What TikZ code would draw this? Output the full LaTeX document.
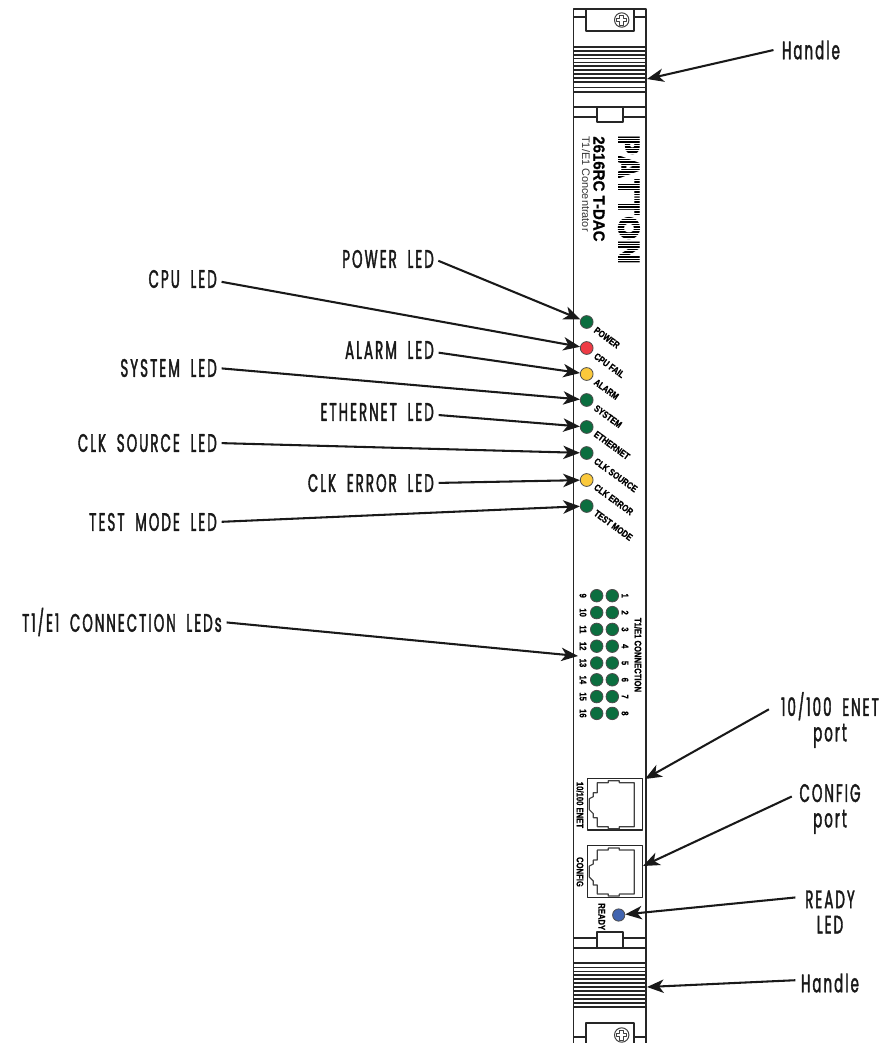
\documentclass[tikz,border=0pt]{standalone}
\usepackage{fontspec}
\usetikzlibrary{arrows.meta,positioning}
\newfontfamily\calloutfont[FakeStretch=0.53,LetterSpace=8,WordSpace=1.9,FakeBold=1.6]{Poppins}
\newfontfamily\panelfont[FakeStretch=0.8,FakeBold=0.8]{Liberation Sans Bold}
\newfontfamily\modelfont[FakeStretch=0.94,FakeBold=0.6]{Liberation Sans Bold}
\newfontfamily\logofont{Poppins Black}
\setsansfont{Liberation Sans}
\tikzset{faceplate/.style={
  x=0.75pt,y=-0.75pt,
  >=Stealth,line join=round,line cap=butt
},
  edge/.style={line width=0.85pt,black!85},
  thin edge/.style={line width=0.75pt,black!75},
  led/.style={circle,draw=black!70,line width=0.6pt,minimum size=9.6pt,inner sep=0pt},
  greenled/.style={led,fill=ledgreen},
  callout/.style={font=\calloutfont\fontsize{19}{19}\selectfont,text=black!90,inner sep=0pt,align=center},
  pointer/.style={line width=1.55pt,black!90,-{Stealth[length=12.5pt,width=10pt,inset=3.5pt]},shorten <=3.5pt},
  ledtag/.style={font=\panelfont\fontsize{7.2}{8}\selectfont,rotate=-36,anchor=west,inner sep=0pt},
  vtag/.style={font=\panelfont\fontsize{7.2}{8}\selectfont,rotate=-90,inner sep=0pt},
  jackbox/.style={draw=black!85,line width=0.9pt,minimum width=41.5pt,minimum height=38.5pt,inner sep=0pt}
}
\definecolor{ledgreen}{HTML}{0B6E3F}
\definecolor{ledred}{HTML}{EE3B45}
\definecolor{ledyellow}{HTML}{FBC93B}
\definecolor{ledblue}{HTML}{4164B0}
\newcommand{\screwhead}[2]{%
  \draw[thin edge] (#1,#2) circle[radius=7.2];
  \draw[thin edge] (#1-1.8,#2-5) -- (#1+1.8,#2-5) -- (#1+1.8,#2-1.8) -- (#1+5,#2-1.8) -- (#1+5,#2+1.8)
    -- (#1+1.8,#2+1.8) -- (#1+1.8,#2+5) -- (#1-1.8,#2+5) -- (#1-1.8,#2+1.8) -- (#1-5,#2+1.8)
    -- (#1-5,#2-1.8) -- (#1-1.8,#2-1.8) -- cycle;
}
\newcommand{\jackoutline}[2]{%
  \draw[thin edge,line width=0.85pt] (#1+10,#2+4) -- ++(11,0) -- ++(0,-2) -- ++(11,0) -- ++(0,2) -- ++(15,0)
    -- ++(0,44) -- ++(-15,0) -- ++(0,2) -- ++(-11,0) -- ++(0,-2) -- ++(-11,0) -- ++(0,-9) -- ++(-4,0)
    -- ++(0,-4) -- ++(-4,-4) -- ++(0,-11) -- ++(4,-2) -- ++(0,-4) -- ++(4,0) -- cycle;
}

\begin{document}
\begin{tikzpicture}[faceplate]
  \useasboundingbox (0,0) rectangle (888,1043);
  % panel
  \draw[edge] (573.5,1043) -- (573.5,9) -- (646,9) -- (646,1043);
  % top handle
  \draw[edge] (586,9) -- (586,31) -- (634,31) -- (634,9);
  \draw[edge] (573.5,17) -- (586,17) (634,17) -- (646,17);
  \screwhead{621.7}{20}
  \foreach \ribrow in {47,51,55,58.5,62.5,66,70,74,78,82,87.5,92}
    \draw[edge] (573.5,\ribrow) -- (646,\ribrow);
  \draw[edge] (573.5,107) -- (646,107);
  \draw[edge] (573.5,117) -- (597,117) (623,117) -- (646,117);
  \draw[edge] (597,107) -- (597,122) -- (623,122) -- (623,107);
  % bottom handle
  \draw[edge] (597,948) -- (597,932) -- (623,932) -- (623,948);
  \draw[edge] (573.5,938) -- (597,938) (623,938) -- (646,938);
  \draw[edge] (573.5,948) -- (646,948);
  \foreach \ribrow in {963,967.5,971.5,975,979,983,987,991,995,999,1003,1007}
    \draw[edge] (573.5,\ribrow) -- (646,\ribrow);
  \draw[edge] (586,1043) -- (586,1023) -- (634,1023) -- (634,1043);
  \draw[edge] (573.5,1037) -- (586,1037) (634,1037) -- (646,1037);
  \screwhead{621.7}{1035}
  % logo and model
  \node[rotate=-90,inner sep=0pt,font=\logofont\fontsize{23}{23}\selectfont] (logo) at (629,200) {PATTON};
  \foreach \stripe in {133,135.5,...,268}
    \draw[white,line width=0.3pt] (615,\stripe) -- (643,\stripe);
  \node[rotate=-90,inner sep=0pt,font=\modelfont\fontsize{12}{12}\selectfont,anchor=west] (model) at (599,136) {2616RC T-DAC};
  \node[rotate=-90,inner sep=0pt,font=\sffamily\fontsize{8.2}{9}\selectfont,anchor=west,text=black!80] (product) at (586,136) {T1/E1 Concentrator};
  % status LEDs
  \node[greenled] (powerled) at (586.7,322) {};
  \node[led,fill=ledred] (cpuled) at (586.7,348) {};
  \node[led,fill=ledyellow] (alarmled) at (586.7,374) {};
  \node[greenled] (systemled) at (586.7,400) {};
  \node[greenled] (ethernetled) at (586.7,427) {};
  \node[greenled] (clksourceled) at (586.7,453) {};
  \node[led,fill=ledyellow] (clkerrorled) at (586.7,480) {};
  \node[greenled] (testled) at (586.7,506) {};
  \node[ledtag] (powertag) at (595,329) {POWER};
  \node[ledtag] (cputag) at (595,355) {CPU FAIL};
  \node[ledtag] (alarmtag) at (595,381) {ALARM};
  \node[ledtag] (systemtag) at (595,407) {SYSTEM};
  \node[ledtag] (ethernettag) at (595,433) {ETHERNET};
  \node[ledtag] (clksourcetag) at (595,460) {CLK SOURCE};
  \node[ledtag] (clkerrortag) at (595,486) {CLK ERROR};
  \node[ledtag] (testtag) at (595,512) {TEST MODE};
  % connection LEDs
  \foreach \ledrow/\ledy/\lowport in {1/595.7/9,2/612.6/10,3/629.4/11,4/646.2/12,5/663/13,6/679.8/14,7/696.6/15,8/713.4/16}{
    \node[greenled,minimum size=9.4pt] (conn\ledrow) at (612.3,\ledy) {};
    \node[greenled,minimum size=9.4pt] (conn\lowport) at (596.7,\ledy) {};
    \node[vtag] (portnum\ledrow) at (625,\ledy) {\ledrow};
    \node[vtag] (portnum\lowport) at (583,\ledy) {\lowport};
  }
  \node[vtag] (conntag) at (638,655) {T1/E1 CONNECTION};
  % ports
  \node[jackbox] (enetbox) at (615,804.4) {};
  \jackoutline{587.3}{778.7}
  \node[jackbox] (configbox) at (615,871.5) {};
  \jackoutline{587.3}{846}
  \node[vtag] (enettag) at (580,805) {10/100 ENET};
  \node[vtag] (configtag) at (580,872) {CONFIG};
  \node[vtag,anchor=west] (readytag) at (601.7,903) {READY};
  \node[led,fill=ledblue,minimum size=9.2pt] (readyled) at (618.7,915) {};
  % callouts, left
  \node[callout,anchor=east] (powerlabel) at (434,259) {POWER LED};
  \node[callout,anchor=east] (cpulabel) at (217,279) {CPU LED};
  \node[callout,anchor=east] (alarmlabel) at (434,350) {ALARM LED};
  \node[callout,anchor=east] (systemlabel) at (217,368) {SYSTEM LED};
  \node[callout,anchor=east] (ethernetlabel) at (434,412) {ETHERNET LED};
  \node[callout,anchor=east] (clksourcelabel) at (217,443) {CLK SOURCE LED};
  \node[callout,anchor=east] (clkerrorlabel) at (434,483) {CLK ERROR LED};
  \node[callout,anchor=east] (testlabel) at (217,522) {TEST MODE LED};
  \node[callout,anchor=east] (connlabel) at (222,622) {T1/E1 CONNECTION LEDs};
  % callouts, right
  \node[callout,anchor=center] (tophandle) at (811,50) {Handle};
  \node[callout,anchor=center] (bottomhandle) at (830,983) {Handle};
  \node[callout] (enetlabel) at (830,720) {10/100 ENET\\port};
  \node[callout] (configlabel) at (830,809) {CONFIG\\port};
  \node[callout] (readylabel) at (830,912) {READY\\LED};
  \coordinate (tophandletip) at (647,79);
  \coordinate (bottomhandletip) at (647,987);
  \coordinate (conntip) at (578,656);
  \coordinate (enettip) at (645,779);
  \coordinate (configtip) at (643,866);
  \coordinate (enettail) at (773,707);
  \coordinate (configtail) at (796,794.5);
  \coordinate (readytail) at (800,897);
  \coordinate (tophandletail) at (778,49);
  \coordinate (bottomhandletail) at (800,980);
  \draw[pointer] (powerlabel.east) -- (powerled);
  \draw[pointer] ([yshift=-1.5pt]cpulabel.east) -- (cpuled);
  \draw[pointer] ([yshift=-1.5pt]alarmlabel.east) -- (alarmled);
  \draw[pointer] (systemlabel.east) -- (systemled);
  \draw[pointer] ([yshift=-2pt]ethernetlabel.east) -- (ethernetled);
  \draw[pointer] (clksourcelabel.east) -- (clksourceled);
  \draw[pointer] (clkerrorlabel.east) -- (clkerrorled);
  \draw[pointer] (testlabel.east) -- (testled);
  \draw[pointer] (connlabel.east) -- (conntip);
  \draw[pointer] (tophandletail) -- (tophandletip);
  \draw[pointer] (bottomhandletail) -- (bottomhandletip);
  \draw[pointer] (enettail) -- (enettip);
  \draw[pointer] (configtail) -- (configtip);
  \draw[pointer] (readytail) -- (readyled);
\end{tikzpicture}
\end{document}
